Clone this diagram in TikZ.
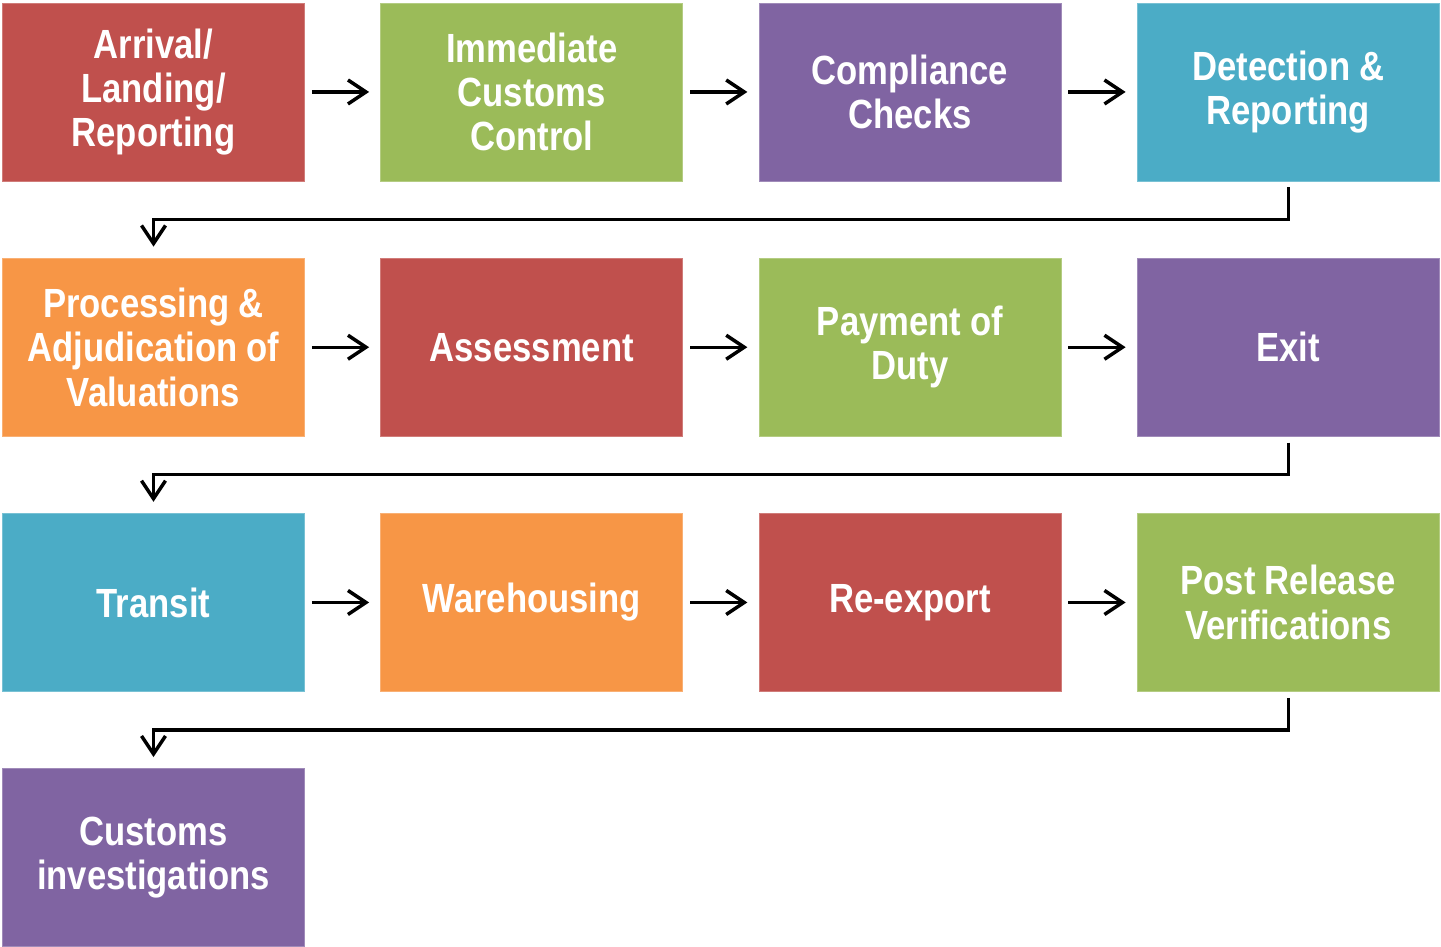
\documentclass[tikz,border=0pt]{standalone}
\usepackage{fontspec}
\newfontfamily\stagefont[FakeStretch=0.85]{Liberation Sans}
\usetikzlibrary{arrows.meta, positioning}

% Office palette
\definecolor{cred}{HTML}{C0504D}
\definecolor{cgreen}{HTML}{9BBB59}
\definecolor{cpurple}{HTML}{8064A2}
\definecolor{cteal}{HTML}{4BACC6}
\definecolor{corange}{HTML}{F79646}

\begin{document}
\begin{tikzpicture}[
    node distance=1.91cm and 1.885cm,
    stage/.style={draw=#1!75!white, line width=0.6pt, fill=#1, text=white,
        minimum width=7.55cm, minimum height=4.45cm, inner sep=0pt,
        text width=7.4cm, align=center,
        font=\stagefont\bfseries\fontsize{29}{31.5}\selectfont,
        execute at begin node={\spaceskip=0.22em\relax}},
    flow/.style={-{Straight Barb[length=0.45cm, width=0.6cm, line width=2.5pt]},
        line width=2.4pt, shorten >=0.28cm}
]
    \useasboundingbox (0,0) rectangle (36.025,-23.675);

    % first row
    \node[stage=cred] (arrival) at (3.8375,-2.3) {Arrival/\\Landing/\\Reporting};
    \node[stage=cgreen, right=of arrival] (control) {Immediate\\Customs\\Control};
    \node[stage=cpurple, right=of control] (checks) {Compliance\\Checks};
    \node[stage=cteal, right=of checks] (detection) {Detection \&\\Reporting};

    % second row
    \node[stage=corange, below=of arrival] (valuation) {Processing \&\\Adjudication of\\Valuations};
    \node[stage=cred, right=of valuation] (assessment) {Assessment};
    \node[stage=cgreen, right=of assessment] (duty) {Payment of\\Duty};
    \node[stage=cpurple, right=of duty] (exit) {Exit};

    % third row
    \node[stage=cteal, below=of valuation] (transit) {Transit};
    \node[stage=corange, right=of transit] (warehouse) {Warehousing};
    \node[stage=cred, right=of warehouse] (reexport) {Re-export};
    \node[stage=cgreen, right=of reexport] (verify) {Post Release\\Verifications};

    % last row
    \node[stage=cpurple, below=of transit] (investigate) {Customs\\investigations};

    % arrows along each row
    \draw[flow, shorten <=0.175cm] (arrival) -- (control);
    \draw[flow, shorten <=0.175cm] (control) -- (checks);
    \draw[flow, shorten <=0.175cm] (checks) -- (detection);
    \draw[flow, shorten <=0.175cm] (valuation) -- (assessment);
    \draw[flow, shorten <=0.175cm] (assessment) -- (duty);
    \draw[flow, shorten <=0.175cm] (duty) -- (exit);
    \draw[flow, shorten <=0.175cm] (transit) -- (warehouse);
    \draw[flow, shorten <=0.175cm] (warehouse) -- (reexport);
    \draw[flow, shorten <=0.175cm] (reexport) -- (verify);

    % return lines to the next row
    \draw[flow, shorten <=0.15cm] (detection.south) -- ++(0,-0.95) -| (valuation.north);
    \draw[flow, shorten <=0.15cm] (exit.south) -- ++(0,-0.95) -| (transit.north);
    \draw[flow, shorten <=0.15cm] (verify.south) -- ++(0,-0.95) -| (investigate.north);
\end{tikzpicture}
\end{document}
